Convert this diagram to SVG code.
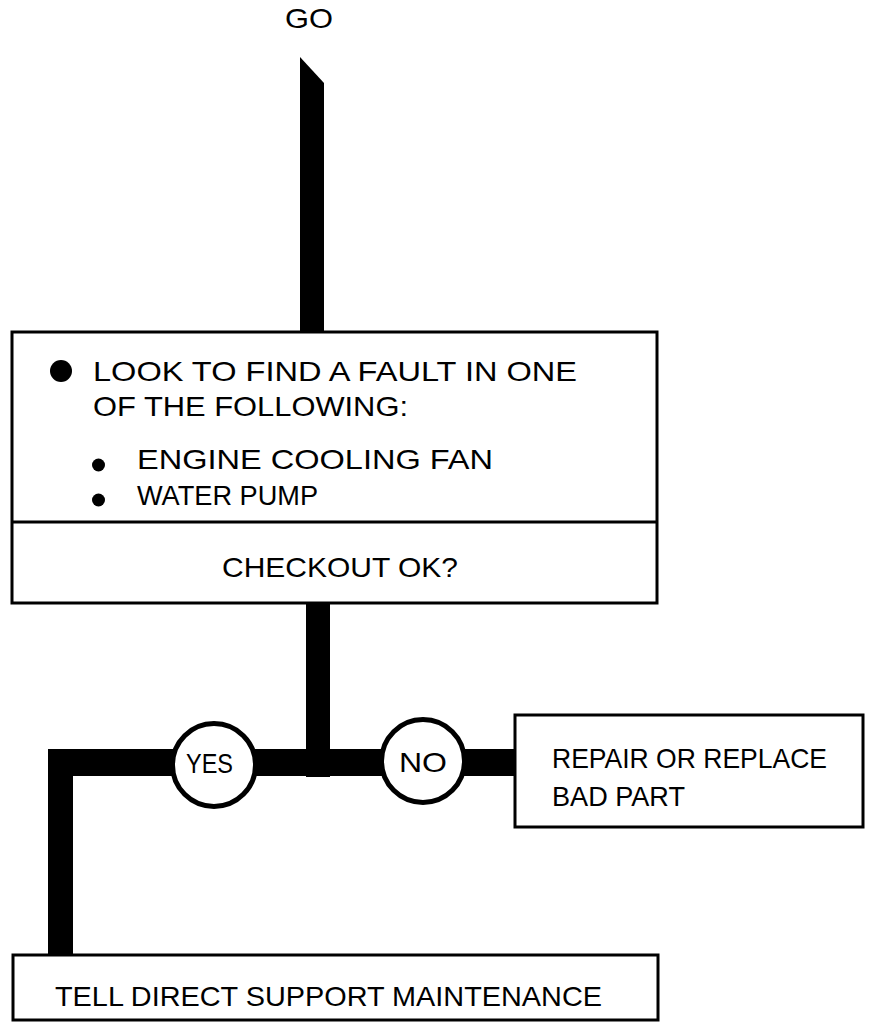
<svg xmlns="http://www.w3.org/2000/svg" width="869" height="1023" viewBox="0 0 869 1023">
<style>
  text { font-family: "Liberation Sans", Arial, sans-serif; font-size: 28px; fill: #000; }
  .box { fill: #fff; stroke: #000; stroke-width: 3; }
  .bar { fill: #000; stroke: none; }
  .dec { fill: #fff; stroke: #000; stroke-width: 5; }
</style>
<rect width="869" height="1023" fill="#fff"/>
<g id="connectors">
  <polygon class="bar" points="300,57 324,83 324,333 300,333"/>
  <rect class="bar" x="306" y="602" width="24" height="175"/>
  <rect class="bar" x="48" y="749" width="468" height="27"/>
  <rect class="bar" x="48" y="749" width="25" height="207"/>
</g>
<g id="start">
  <text x="285" y="28" textLength="48" lengthAdjust="spacingAndGlyphs" font-size="24">GO</text>
</g>
<g id="check">
  <rect class="box" x="12" y="332" width="645" height="271"/>
  <line x1="12" y1="522" x2="657" y2="522" stroke="#000" stroke-width="3"/>
  <circle cx="61" cy="371" r="11" fill="#000"/>
  <text x="93" y="381" textLength="484" lengthAdjust="spacingAndGlyphs">LOOK TO FIND A FAULT IN ONE</text>
  <text x="93" y="416" textLength="315" lengthAdjust="spacingAndGlyphs">OF THE FOLLOWING:</text>
  <circle cx="98.5" cy="465" r="6.5" fill="#000"/>
  <text x="137" y="469" textLength="356" lengthAdjust="spacingAndGlyphs">ENGINE COOLING FAN</text>
  <circle cx="98.5" cy="500" r="6.5" fill="#000"/>
  <text x="137" y="505" textLength="181" lengthAdjust="spacingAndGlyphs">WATER PUMP</text>
  <text x="222" y="577" textLength="236" lengthAdjust="spacingAndGlyphs">CHECKOUT OK?</text>
</g>
<g id="yes">
  <circle class="dec" cx="214" cy="765" r="41.5"/>
  <text x="186" y="773" textLength="47" lengthAdjust="spacingAndGlyphs">YES</text>
</g>
<g id="no">
  <circle class="dec" cx="423" cy="761" r="41.5"/>
  <text x="399" y="772" textLength="48" lengthAdjust="spacingAndGlyphs">NO</text>
</g>
<g id="repair">
  <rect class="box" x="515" y="715" width="348" height="112"/>
  <text x="552" y="768" font-size="30" textLength="275" lengthAdjust="spacingAndGlyphs">REPAIR OR REPLACE</text>
  <text x="552" y="806" font-size="30" textLength="133" lengthAdjust="spacingAndGlyphs">BAD PART</text>
</g>
<g id="tell">
  <rect class="box" x="13" y="955" width="645" height="65"/>
  <text x="55" y="1006" textLength="547" lengthAdjust="spacingAndGlyphs">TELL DIRECT SUPPORT MAINTENANCE</text>
</g>
</svg>
